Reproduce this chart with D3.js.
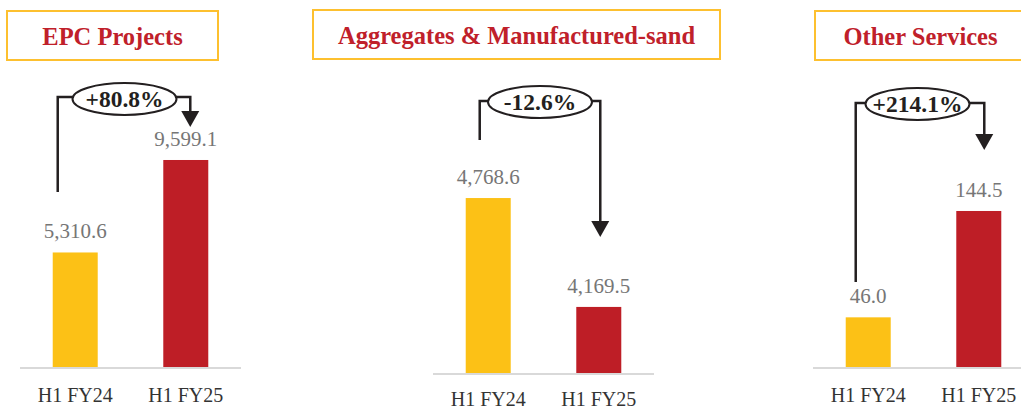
<!DOCTYPE html>
<html>
<head>
<meta charset="utf-8">
<script src="https://cdn.jsdelivr.net/npm/d3@7"></script>
<style>
    html, body { margin: 0; padding: 0; background: #fff; }
    svg { display: block; }
</style>
</head>
<body>
<svg width="1021" height="409"></svg>
<script>
const panelTitles = ["EPC Projects", "Aggregates & Manufactured-sand", "Other Services"],
    periods = ["H1 FY24", "H1 FY25"],
    valuesFY24 = [5310.6, 4768.6, 46.0],
    valuesFY25 = [9599.1, 4169.5, 144.5],
    growthLabels = ["+80.8%", "-12.6%", "+214.1%"],
    axisMin = [0, 3806, 0],
    axisMax = [12381, 5308, 247.3];

const barColors = ["#fcc116", "#be1e26"];

// layout of each small chart (pixels)
const panels = [
    {x0: 20,  axisY: 367, pad: 20, box: [7, 218],    boxY: 11, tailX: 5,  tailEnd: 192, headX: 4.5, tip: 127, ellX: -6,   ellY: 99,  lineY: 97},
    {x0: 433, axisY: 373, pad: 18, box: [313, 720],  boxY: 10, tailX: 14, tailEnd: 140, headX: 1.5, tip: 237, ellX: -3.5, ellY: 102, lineY: 101},
    {x0: 813, axisY: 367, pad: 20, box: [815, 1026], boxY: 11, tailX: 10, tailEnd: 282, headX: 5.5, tip: 150, ellX: -6,   ellY: 104, lineY: 103}
];

const svg = d3.select("svg"),
    fmt = d3.format(",.1f"),
    serif = "'Liberation Serif', 'Times New Roman', serif",
    ink = "#231f20";

panels.forEach((p, i) => {
    const g = svg.append("g"),
        vals = [valuesFY24[i], valuesFY25[i]],
        x = d3.scaleBand().domain(periods).range([p.x0, p.x0 + 221]).paddingInner(0.593).paddingOuter(0.296),
        y = d3.scaleLinear().domain([axisMin[i], axisMax[i]]).range([p.axisY, 100]);

    // title box
    g.append("rect")
        .attr("x", p.box[0]).attr("y", p.boxY)
        .attr("width", p.box[1] - p.box[0]).attr("height", 49)
        .attr("fill", "#fff").attr("stroke", "#fdc02f").attr("stroke-width", 2);
    g.append("text")
        .attr("x", (p.box[0] + p.box[1]) / 2).attr("y", p.boxY + 34)
        .attr("text-anchor", "middle")
        .attr("font-family", serif).attr("font-weight", "bold").attr("font-size", 24.5)
        .attr("fill", "#c0202a")
        .text(panelTitles[i]);

    // bars
    g.selectAll("rect.bar").data(vals).join("rect")
        .attr("class", "bar")
        .attr("x", (d, j) => x(periods[j]))
        .attr("y", (d) => y(d))
        .attr("width", x.bandwidth())
        .attr("height", (d) => p.axisY - y(d))
        .attr("fill", (d, j) => barColors[j]);

    // value labels
    g.selectAll("text.val").data(vals).join("text")
        .attr("class", "val")
        .attr("x", (d, j) => x(periods[j]) + x.bandwidth() / 2)
        .attr("y", (d) => y(d) - 14)
        .attr("text-anchor", "middle")
        .attr("font-family", serif).attr("font-size", 21)
        .attr("fill", "#767676")
        .text((d) => fmt(d));

    // category axis
    const axis = g.append("g")
        .attr("transform", `translate(0,${p.axisY + 1})`)
        .call(d3.axisBottom(x).tickSize(0).tickPadding(p.pad));
    axis.select(".domain").attr("stroke", "#d9d9d9").attr("stroke-width", 2)
        .attr("d", `M${p.x0},0H${p.x0 + 221}`);
    axis.selectAll("text")
        .attr("font-family", serif).attr("font-size", 20)
        .attr("fill", "#333");

    // growth arrow
    const lx = x(periods[0]) + p.tailX,
        rx = x(periods[1]) + x.bandwidth() / 2 + p.headX,
        cx = (x(periods[0]) + x(periods[1])) / 2 + x.bandwidth() / 2 + p.ellX;
    g.append("path")
        .attr("d", `M${lx},${p.tailEnd}V${p.lineY}H${rx}V${p.tip - 15}`)
        .attr("fill", "none").attr("stroke", ink).attr("stroke-width", 2.5);
    g.append("path")
        .attr("d", `M${rx - 9},${p.tip - 16}L${rx + 9},${p.tip - 16}L${rx},${p.tip}Z`)
        .attr("fill", ink);
    g.append("ellipse")
        .attr("cx", cx).attr("cy", p.ellY).attr("rx", 52).attr("ry", 16)
        .attr("fill", "#fff").attr("stroke", ink).attr("stroke-width", 2);
    g.append("text")
        .attr("x", cx).attr("y", p.ellY + 8)
        .attr("text-anchor", "middle")
        .attr("font-family", serif).attr("font-weight", "bold").attr("font-size", 23.5)
        .attr("fill", ink)
        .text(growthLabels[i]);
});
</script>
</body>
</html>
